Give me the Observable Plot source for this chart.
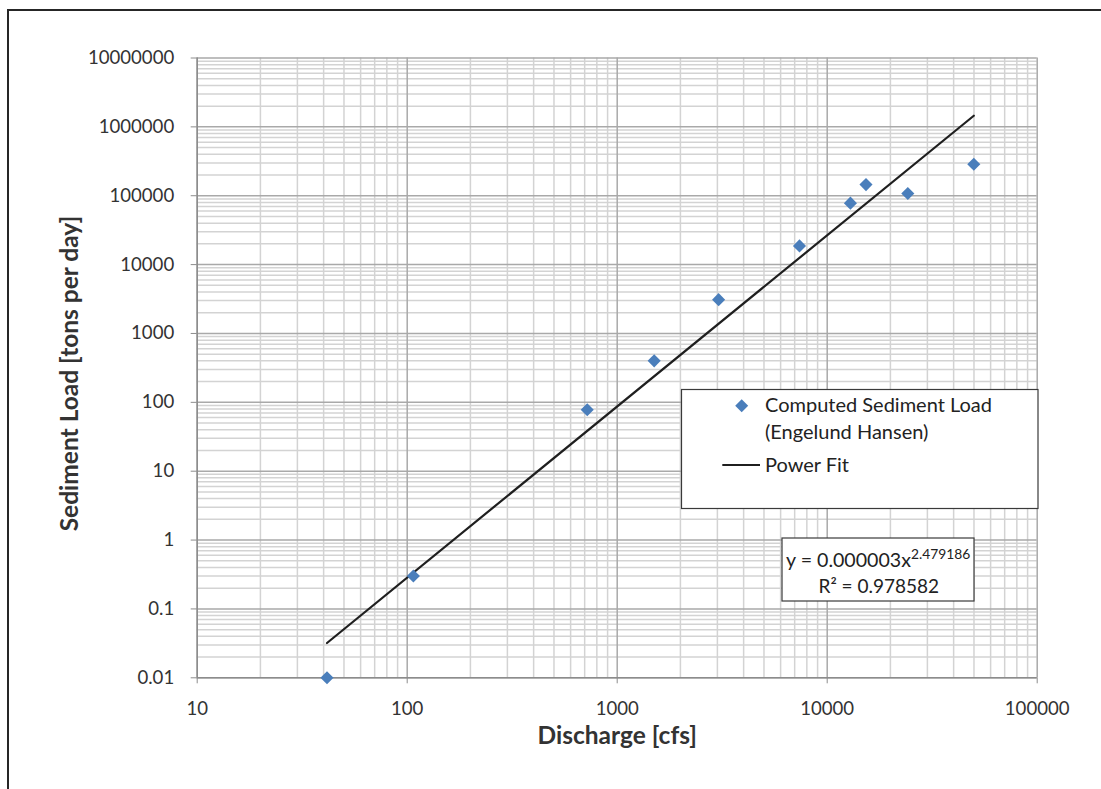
<!DOCTYPE html>
<html><head><meta charset="utf-8">
<script src="https://cdn.jsdelivr.net/npm/d3@7"></script>
<script src="https://cdn.jsdelivr.net/npm/@observablehq/plot@0.6"></script>
<style>
html,body{margin:0;padding:0;background:#fff;}
#wrap{position:relative;width:1101px;height:789px;overflow:hidden;font-family:Lato,sans-serif;}
#frame{position:absolute;left:7px;top:9px;width:1200px;height:900px;border-left:2px solid #262626;border-top:2px solid #262626;}
#chart{position:absolute;left:0;top:0;}
#overlay{position:absolute;left:0;top:0;font-family:Lato,sans-serif;font-size:20px;}
</style></head><body>
<div id="wrap"><div id="frame"></div><div id="chart"></div><svg id="overlay" width="1101" height="789"></svg></div>
<script>
// ---- data ----
const discharge    = [41.5, 107, 720, 1500, 3040, 7380, 12900, 15300, 24200, 49900];
const sedimentLoad = [0.01, 0.3, 78, 400, 3100, 18700, 78000, 145000, 108000, 287000];
const fitDischarge = [41.5, 49900];
const fitLoad      = [0.032, 1450000];
const xTicks = [10, 100, 1000, 10000, 100000];
const yTicks = [0.01, 0.1, 1, 10, 100, 1000, 10000, 100000, 1000000, 10000000];
const xLabel = "Discharge [cfs]";
const yLabel = "Sediment Load [tons per day]";
const seriesName = ["Computed Sediment Load", "(Engelund Hansen)"];
const fitName = "Power Fit";
const fitEquation = "y = 0.000003x";
const fitExponent = "2.479186";
const fitR2 = "R\u00B2 = 0.978582";

// minor log gridlines (2..9 within each decade)
const minorOf = decs => decs.slice(0, -1).flatMap(d => [2,3,4,5,6,7,8,9].map(k => k * d));
const minorX = minorOf(xTicks);
const minorY = minorOf(yTicks);

const points = discharge.map((x, i) => ({x, y: sedimentLoad[i]}));
const fit = fitDischarge.map((x, i) => ({x, y: fitLoad[i]}));

const W = 1101, H = 789;
const pLeft = 196.7, pTop = 57.5, pRight = 1036.7, pBottom = 677.3;
const gridMinor = "#d3d3d3", gridMajor = "#a9a9a9", axisCol = "#8c8c8c", textCol = "#333";

const chart = Plot.plot({
  width: W, height: H,
  marginLeft: pLeft, marginTop: pTop, marginRight: W - pRight, marginBottom: H - pBottom,
  style: {fontFamily: "Lato, sans-serif", fontSize: "18.6px", color: textCol, background: "transparent"},
  x: {type: "log", domain: [10, 100000]},
  y: {type: "log", domain: [0.01, 10000000]},
  marks: [
    Plot.ruleX(minorX, {stroke: gridMinor, strokeWidth: 1.5}),
    Plot.ruleY(minorY, {stroke: gridMinor, strokeWidth: 1.5}),
    Plot.ruleX(xTicks, {stroke: gridMajor, strokeWidth: 1.5}),
    Plot.ruleY(yTicks, {stroke: gridMajor, strokeWidth: 1.5}),
    Plot.axisX({ticks: xTicks, tickFormat: d => String(d), tickSize: 6, tickPadding: 17.5, stroke: axisCol, fill: textCol, label: null}),
    Plot.axisY({ticks: yTicks, tickFormat: d => String(d), tickSize: 6, tickPadding: 17, stroke: axisCol, fill: textCol, label: null}),
    Plot.ruleX([10], {stroke: axisCol, strokeWidth: 1.5}),
    Plot.ruleY([0.01], {stroke: axisCol, strokeWidth: 1.5}),
    Plot.line(fit, {x: "x", y: "y", stroke: "#1f1f1f", strokeWidth: 2.2}),
    Plot.dot(points, {x: "x", y: "y", symbol: "diamond2", r: 5.9, fill: "#4a7ebb", stroke: "none"}),
    Plot.text([xLabel], {text: d => d, frameAnchor: "bottom", textAnchor: "middle", dy: 66, fontWeight: "bold", fontSize: 24.5, fill: textCol}),
    Plot.text([yLabel], {text: d => d, frameAnchor: "left", textAnchor: "middle", dx: -127, dy: 5.6, rotate: -90, fontWeight: "bold", fontSize: 24.5, fill: textCol})
  ]
});
document.getElementById("chart").appendChild(chart);

// ---- legend and equation boxes ----
const ov = d3.select("#overlay");
ov.append("rect").attr("x", 681.5).attr("y", 389.5).attr("width", 356.5).attr("height", 119)
  .attr("fill", "#fff").attr("stroke", "#3a3a3a").attr("stroke-width", 1.2);
ov.append("path").attr("d", d3.symbol(d3.symbolDiamond2, 107.7)())
  .attr("transform", "translate(741.7,405.7)").attr("fill", "#4a7ebb");
ov.append("text").attr("x", 765).attr("y", 412.3).attr("fill", "#222").text(seriesName[0]);
ov.append("text").attr("x", 765).attr("y", 439).attr("fill", "#222").text(seriesName[1]);
ov.append("line").attr("x1", 722.3).attr("x2", 760).attr("y1", 465).attr("y2", 465)
  .attr("stroke", "#1f1f1f").attr("stroke-width", 2.2);
ov.append("text").attr("x", 765).attr("y", 471.7).attr("fill", "#222").text(fitName);

ov.append("rect").attr("x", 782).attr("y", 538).attr("width", 192).attr("height", 63)
  .attr("fill", "#fff").attr("stroke", "#3a3a3a").attr("stroke-width", 1.2);
const eq = ov.append("text").attr("x", 786).attr("y", 566.7).attr("fill", "#222").attr("font-size", 19.6).text(fitEquation);
eq.append("tspan").attr("dy", -7.5).attr("font-size", 13.8).text(fitExponent);
ov.append("text").attr("x", 878.8).attr("y", 593.3).attr("text-anchor", "middle").attr("fill", "#222").attr("font-size", 19).text(fitR2);
</script>
</body></html>
